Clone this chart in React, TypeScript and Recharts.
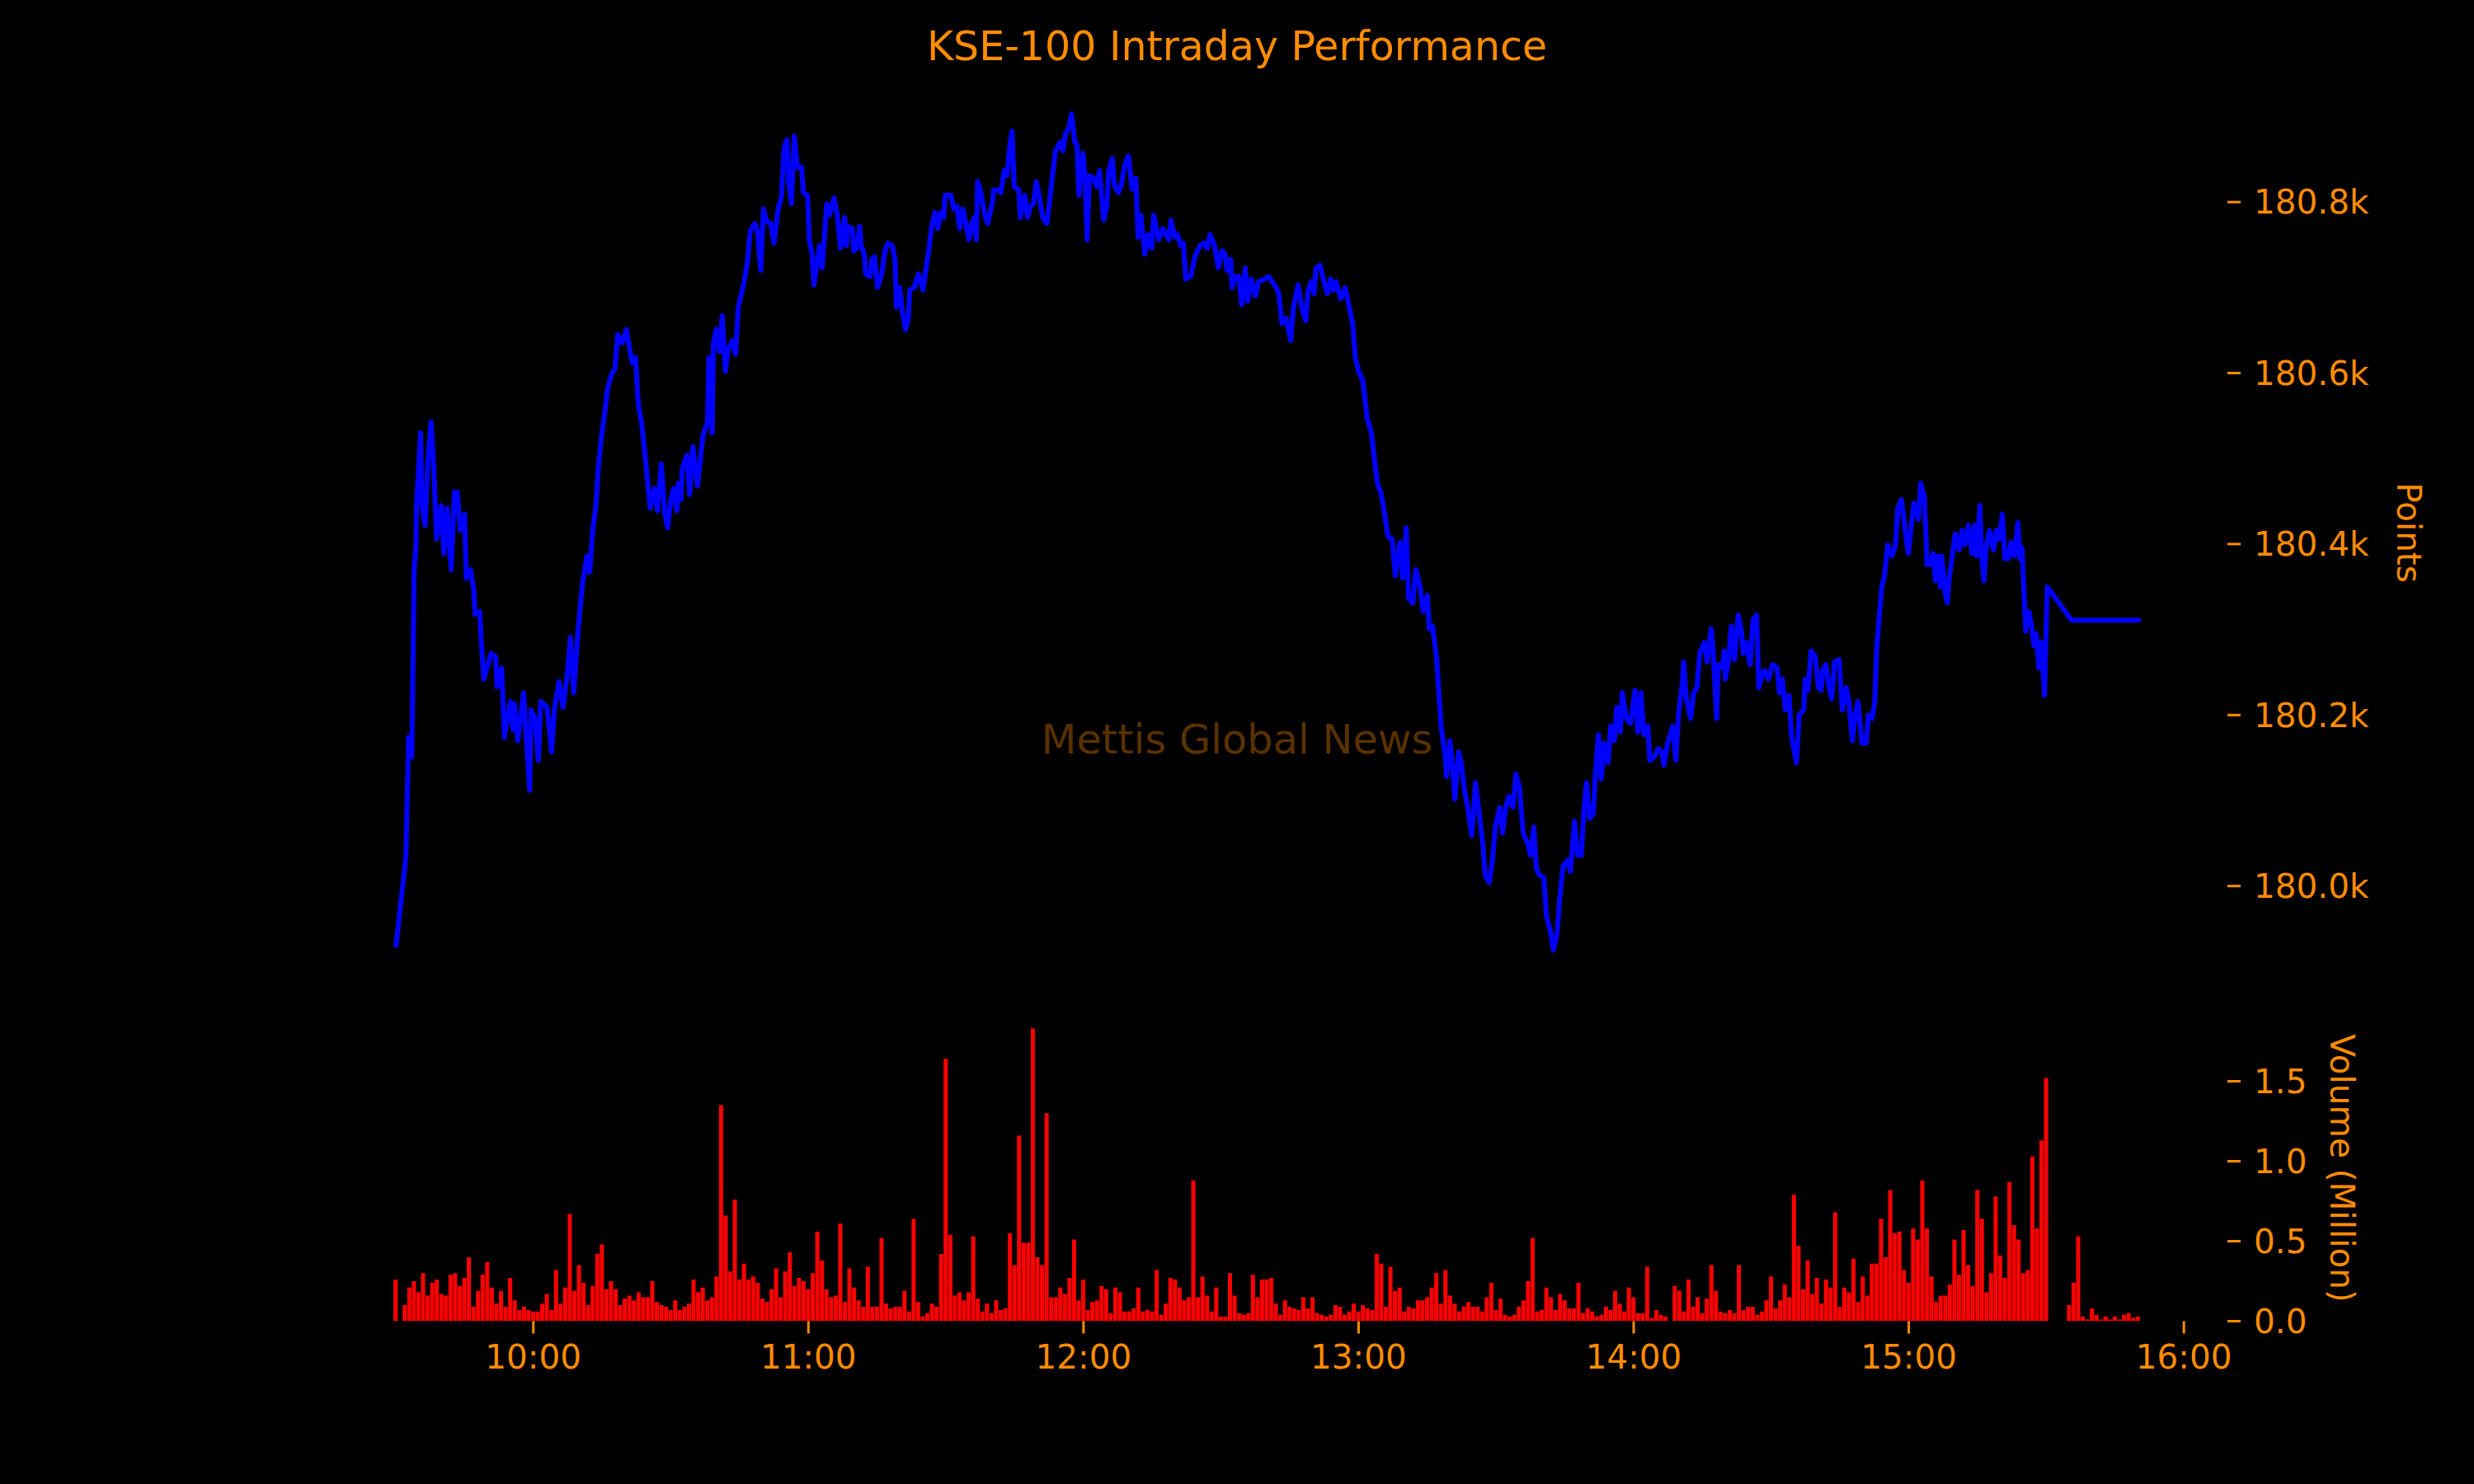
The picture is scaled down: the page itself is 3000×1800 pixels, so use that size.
import { LineChart, Line, BarChart, Bar, XAxis, YAxis } from 'recharts';

// minutes after the 09:30 open
const priceMinutes = [
  0, 2.2, 2.8, 3.5, 4.0, 4.4, 4.5, 5.4, 5.7, 6.4, 7.0, 7.7, 8.3, 8.9, 9.9, 10.5, 11.2, 12.1, 12.8, 13.4,
  14.1, 15.0, 15.4, 16.3, 17.0, 17.3, 18.3, 18.6, 19.2, 19.9, 20.8, 21.8, 22.1, 23.1, 23.7, 25.0, 25.6, 25.9, 26.6, 27.9,
  28.5, 29.2, 29.5, 30.4, 31.1, 31.6, 33.0, 34.0, 34.6, 35.6, 36.5, 37.5, 38.1, 38.8, 39.8, 40.7, 41.7, 42.3, 43.0, 43.6,
  44.2, 44.9, 45.5, 46.2, 47.1, 47.8, 48.4, 49.4, 50.3, 51.0, 51.6, 52.3, 52.9, 53.6, 54.5, 55.5, 56.4, 57.1, 57.9, 58.7,
  59.3, 60.0, 60.6, 61.3, 61.6, 62.2, 62.5, 63.5, 64.1, 64.8, 65.8, 66.4, 67.0, 68.0, 68.3, 69.0, 69.3, 69.9, 70.6, 71.2,
  71.9, 72.5, 73.5, 74.1, 74.7, 76.0, 76.7, 77.3, 78.3, 78.9, 79.6, 80.2, 80.8, 81.8, 82.5, 83.4, 84.1, 84.7, 85.3, 85.7,
  86.3, 86.9, 87.6, 88.5, 88.9, 89.8, 90.2, 90.8, 91.2, 91.8, 92.4, 93.0, 94.0, 94.6, 95.6, 96.3, 97.0, 97.9, 98.3, 98.6,
  99.6, 99.9, 100.6, 101.2, 101.5, 102.2, 102.5, 103.5, 103.8, 104.4, 105.1, 106.0, 106.7, 107.3, 108.3, 108.9, 109.2, 109.9, 110.5, 111.2,
  111.8, 112.1, 113.1, 114.0, 115.0, 115.6, 116.3, 116.9, 117.6, 118.2, 118.9, 119.5, 119.8, 121.1, 121.7, 122.4, 123.0, 123.7, 125.0, 125.6,
  126.2, 126.6, 126.9, 127.5, 128.5, 129.1, 130.1, 130.4, 131.4, 132.0, 132.7, 133.3, 133.9, 134.4, 134.9, 135.9, 136.2, 137.2, 137.8, 138.4,
  139.1, 139.7, 140.4, 141.1, 142.0, 142.6, 143.3, 143.9, 144.9, 145.5, 146.1, 146.8, 147.4, 148.1, 148.6, 149.0, 149.5, 149.9, 150.3, 150.8,
  151.3, 152.2, 152.9, 153.5, 154.4, 155.1, 155.5, 156.3, 156.7, 157.6, 158.3, 158.9, 159.8, 160.6, 161.4, 161.9, 162.5, 163.4, 164.1, 164.9,
  165.3, 166.4, 167.3, 168.6, 169.1, 169.9, 170.5, 171.2, 171.8, 172.3, 173.4, 174.3, 175.4, 176.3, 177.0, 177.6, 178.6, 179.4, 180.2, 180.9,
  181.3, 182.1, 182.4, 183.1, 183.9, 184.5, 185.3, 185.8, 186.6, 187.5, 188.2, 189.5, 190.4, 192.0, 192.6, 193.3, 194.2, 195.2, 195.8, 196.8,
  197.6, 198.5, 199.0, 199.7, 200.3, 200.7, 201.6, 202.3, 203.2, 203.9, 204.5, 205.1, 206.1, 207.1, 207.7, 208.7, 209.3, 210.0, 210.9, 211.9,
  212.8, 213.5, 214.1, 214.8, 215.4, 216.4, 217.3, 218.0, 219.0, 219.6, 220.4, 220.9, 221.8, 222.5, 223.4, 224.1, 225.0, 225.4, 226.1, 227.0,
  227.3, 228.0, 228.9, 229.2, 229.9, 230.5, 231.0, 231.8, 232.4, 233.1, 233.7, 234.7, 235.5, 236.3, 237.1, 237.6, 238.5, 239.2, 239.8, 240.8,
  241.4, 242.1, 242.8, 243.7, 244.3, 245.1, 245.9, 246.9, 247.5, 248.2, 248.8, 249.4, 250.4, 251.0, 251.8, 252.5, 253.3, 253.9, 254.6, 255.5,
  256.2, 257.1, 257.8, 258.6, 259.1, 259.7, 260.4, 261.2, 261.6, 262.3, 262.9, 263.6, 264.4, 265.0, 265.8, 266.3, 267.1, 267.5, 268.4, 269.3,
  270.3, 270.9, 271.6, 272.2, 273.1, 273.5, 274.5, 275.4, 276.1, 276.6, 277.4, 278.5, 279.2, 279.8, 280.6, 280.9, 281.5, 282.4, 283.1, 283.8,
  284.4, 285.4, 286.0, 286.9, 287.3, 288.1, 288.4, 289.4, 289.7, 290.0, 290.7, 291.3, 292.0, 292.8, 293.5, 293.9, 294.5, 295.4, 296.0, 296.8,
  297.3, 298.1, 298.6, 299.4, 300.3, 301.3, 301.8, 302.4, 303.1, 303.9, 304.4, 304.8, 305.5, 306.1, 307.1, 307.4, 308.0, 308.7, 309.6, 310.3,
  310.9, 311.2, 311.9, 312.5, 313.2, 313.8, 314.8, 315.5, 316.4, 317.0, 317.7, 318.3, 318.9, 319.8, 320.7, 321.2, 322.0, 322.6, 323.0, 323.4,
  324.1, 324.7, 325.4, 326.3, 327.1, 327.6, 328.4, 329.2, 329.9, 330.5, 331.1, 332.1, 332.6, 333.4, 334.0, 334.7, 335.3, 335.8, 336.3, 336.9,
  337.2, 337.9, 338.4, 338.8, 339.5, 340.1, 341.0, 341.6, 342.2, 343.0, 343.8, 344.4, 344.8, 345.5, 345.9, 346.4, 346.9, 347.6, 348.5, 349.1,
  349.8, 350.4, 351.0, 351.7, 352.3, 353.0, 353.8, 354.2, 354.7, 355.1, 355.5, 356.2, 356.8, 357.3, 357.8, 358.4, 358.9, 359.6, 360.2, 365.5,
  380.6,
];

const pricePoints = [
  179928, 180033, 180174, 180151, 180370, 180396, 180442, 180530, 180445, 180422, 180497, 180543, 180488, 180406, 180445, 180389, 180442, 180370, 180461, 180461,
  180416, 180435, 180360, 180370, 180347, 180318, 180321, 180291, 180242, 180255, 180272, 180268, 180233, 180255, 180174, 180216, 180183, 180213, 180170, 180226,
  180170, 180112, 180206, 180196, 180147, 180216, 180209, 180157, 180206, 180239, 180209, 180252, 180291, 180226, 180301, 180353, 180386, 180367, 180419, 180442,
  180491, 180527, 180550, 180582, 180599, 180605, 180645, 180635, 180651, 180628, 180612, 180618, 180563, 180543, 180497, 180442, 180465, 180439, 180494, 180435,
  180419, 180452, 180465, 180439, 180471, 180452, 180488, 180504, 180458, 180514, 180468, 180497, 180527, 180543, 180618, 180530, 180635, 180651, 180625, 180667,
  180602, 180628, 180638, 180622, 180677, 180707, 180730, 180766, 180775, 180766, 180720, 180792, 180778, 180775, 180752, 180792, 180805, 180864, 180873, 180824,
  180798, 180877, 180841, 180841, 180811, 180808, 180756, 180739, 180703, 180726, 180749, 180723, 180798, 180785, 180805, 180785, 180746, 180782, 180749, 180772,
  180769, 180743, 180746, 180772, 180749, 180739, 180716, 180713, 180733, 180736, 180700, 180716, 180743, 180752, 180749, 180733, 180677, 180700, 180671, 180651,
  180664, 180697, 180700, 180716, 180697, 180720, 180746, 180772, 180788, 180769, 180788, 180782, 180808, 180808, 180792, 180795, 180769, 180792, 180756, 180775,
  180782, 180756, 180824, 180814, 180785, 180775, 180798, 180814, 180814, 180811, 180837, 180831, 180864, 180883, 180818, 180814, 180782, 180808, 180782, 180795,
  180798, 180824, 180805, 180782, 180775, 180801, 180834, 180860, 180870, 180860, 180880, 180887, 180903, 180870, 180867, 180808, 180844, 180857, 180831, 180756,
  180831, 180828, 180818, 180837, 180779, 180795, 180837, 180851, 180821, 180811, 180821, 180841, 180854, 180815, 180828, 180759, 180785, 180739, 180762, 180746,
  180785, 180756, 180769, 180756, 180779, 180759, 180762, 180749, 180752, 180710, 180713, 180736, 180749, 180752, 180746, 180762, 180749, 180723, 180743, 180739,
  180720, 180733, 180700, 180713, 180713, 180680, 180723, 180684, 180710, 180690, 180707, 180710, 180713, 180700, 180693, 180658, 180664, 180638, 180677, 180703,
  180677, 180661, 180697, 180707, 180693, 180723, 180726, 180710, 180693, 180710, 180697, 180707, 180687, 180700, 180684, 180658, 180618, 180602, 180592, 180546,
  180530, 180497, 180471, 180461, 180445, 180409, 180406, 180363, 180402, 180360, 180419, 180337, 180331, 180370, 180350, 180321, 180340, 180301, 180304, 180268,
  180242, 180187, 180151, 180128, 180170, 180138, 180102, 180157, 180144, 180112, 180095, 180059, 180121, 180085, 180049, 180013, 180004, 180030, 180069, 180092,
  180062, 180092, 180105, 180092, 180131, 180115, 180062, 180049, 180036, 180069, 180020, 180013, 180010, 179964, 179948, 179925, 179945, 179987, 180023, 180030,
  180017, 180076, 180036, 180036, 180085, 180121, 180079, 180085, 180128, 180177, 180125, 180167, 180144, 180187, 180170, 180209, 180180, 180226, 180196, 180190,
  180229, 180180, 180226, 180177, 180187, 180147, 180151, 180161, 180157, 180141, 180167, 180187, 180147, 180203, 180236, 180262, 180219, 180196, 180226, 180232,
  180272, 180285, 180262, 180301, 180278, 180196, 180259, 180255, 180275, 180242, 180265, 180304, 180265, 180317, 180298, 180272, 180285, 180259, 180311, 180317,
  180232, 180249, 180252, 180242, 180259, 180255, 180226, 180242, 180206, 180223, 180177, 180164, 180144, 180200, 180206, 180242, 180229, 180275, 180268, 180232,
  180229, 180252, 180259, 180236, 180219, 180262, 180265, 180206, 180232, 180213, 180170, 180200, 180216, 180167, 180167, 180200, 180196, 180216, 180278, 180304,
  180350, 180363, 180399, 180386, 180399, 180442, 180452, 180416, 180389, 180419, 180448, 180429, 180471, 180455, 180376, 180376, 180389, 180357, 180386, 180350,
  180386, 180344, 180331, 180360, 180386, 180412, 180393, 180416, 180399, 180422, 180389, 180422, 180386, 180445, 180386, 180357, 180396, 180416, 180393, 180416,
  180406, 180435, 180383, 180383, 180402, 180386, 180425, 180383, 180396, 180347, 180298, 180321, 180304, 180281, 180295, 180255, 180285, 180223, 180350, 180311,
  180311,
];

// one value per minute from 09:30, in millions
const volumeMillions = [
  0.26, 0, 0.10, 0.21, 0.25, 0.18, 0.30, 0.16, 0.24, 0.26,
  0.17, 0.16, 0.29, 0.30, 0.22, 0.27, 0.40, 0.09, 0.19, 0.29,
  0.37, 0.21, 0.11, 0.19, 0.09, 0.27, 0.13, 0.07, 0.09, 0.07,
  0.06, 0.06, 0.11, 0.17, 0.07, 0.32, 0.11, 0.21, 0.67, 0.19,
  0.35, 0.24, 0.10, 0.22, 0.42, 0.48, 0.20, 0.25, 0.20, 0.10,
  0.14, 0.16, 0.13, 0.18, 0.15, 0.15, 0.25, 0.12, 0.10, 0.09,
  0.07, 0.13, 0.07, 0.09, 0.11, 0.26, 0.18, 0.21, 0.13, 0.15,
  0.28, 1.35, 0.66, 0.31, 0.76, 0.26, 0.36, 0.26, 0.28, 0.24,
  0.14, 0.12, 0.20, 0.33, 0.15, 0.31, 0.43, 0.22, 0.27, 0.25,
  0.20, 0.30, 0.56, 0.38, 0.20, 0.15, 0.16, 0.61, 0.12, 0.33,
  0.21, 0.13, 0.09, 0.34, 0.09, 0.09, 0.52, 0.11, 0.08, 0.09,
  0.09, 0.19, 0.06, 0.64, 0.12, 0.03, 0.05, 0.11, 0.09, 0.42,
  1.64, 0.54, 0.16, 0.18, 0.13, 0.18, 0.53, 0.14, 0.06, 0.11,
  0.05, 0.13, 0.07, 0.08, 0.55, 0.35, 1.16, 0.49, 0.49, 1.83,
  0.40, 0.35, 1.30, 0.15, 0.15, 0.21, 0.17, 0.27, 0.51, 0.13,
  0.26, 0.07, 0.12, 0.13, 0.22, 0.20, 0.05, 0.21, 0.18, 0.06,
  0.06, 0.08, 0.21, 0.06, 0.07, 0.06, 0.32, 0.04, 0.11, 0.27,
  0.26, 0.21, 0.13, 0.15, 0.88, 0.15, 0.28, 0.16, 0.06, 0.21,
  0.03, 0.03, 0.30, 0.16, 0.05, 0.04, 0.05, 0.29, 0.15, 0.26,
  0.26, 0.27, 0.11, 0.04, 0.13, 0.09, 0.08, 0.07, 0.15, 0.08,
  0.15, 0.05, 0.04, 0.03, 0.04, 0.10, 0.09, 0.04, 0.06, 0.11,
  0.06, 0.10, 0.08, 0.07, 0.42, 0.36, 0.09, 0.34, 0.19, 0.21,
  0.06, 0.09, 0.08, 0.13, 0.13, 0.15, 0.21, 0.30, 0.11, 0.32,
  0.16, 0.11, 0.06, 0.09, 0.12, 0.09, 0.09, 0.06, 0.15, 0.24,
  0.07, 0.14, 0.04, 0.03, 0.04, 0.09, 0.13, 0.25, 0.52, 0.06,
  0.07, 0.21, 0.15, 0.07, 0.17, 0.13, 0.08, 0.08, 0.24, 0.05,
  0.08, 0.06, 0.03, 0.04, 0.09, 0.07, 0.19, 0.11, 0.06, 0.21,
  0.15, 0.05, 0.05, 0.34, 0.02, 0.07, 0.04, 0.03, 0, 0.22,
  0.19, 0.06, 0.26, 0.09, 0.15, 0.05, 0.14, 0.35, 0.19, 0.06,
  0.05, 0.07, 0.05, 0.35, 0.07, 0.09, 0.09, 0.04, 0.06, 0.13,
  0.28, 0.08, 0.13, 0.23, 0.15, 0.79, 0.47, 0.20, 0.38, 0.17,
  0.27, 0.11, 0.26, 0.21, 0.68, 0.09, 0.21, 0.18, 0.39, 0.12,
  0.28, 0.16, 0.36, 0.36, 0.64, 0.40, 0.82, 0.55, 0.56, 0.32,
  0.24, 0.58, 0.51, 0.88, 0.58, 0.28, 0.12, 0.16, 0.16, 0.23,
  0.51, 0.29, 0.57, 0.35, 0.22, 0.82, 0.64, 0.18, 0.30, 0.78,
  0.41, 0.27, 0.87, 0.60, 0.51, 0.30, 0.32, 1.03, 0.58, 1.13,
  1.52, 0, 0, 0, 0, 0.10, 0.24, 0.53, 0.03, 0.01,
  0.08, 0.04, 0.01, 0.03, 0.01, 0.03, 0.01, 0.04, 0.05, 0.02,
  0.03,
];

const timeTicks = [30, 90, 150, 210, 270, 330, 390];
const timeTickLabels = ['10:00', '11:00', '12:00', '13:00', '14:00', '15:00', '16:00'];
const priceTicks = [180000, 180200, 180400, 180600, 180800];
const priceTickLabels = ['180.0k', '180.2k', '180.4k', '180.6k', '180.8k'];
const volumeTicks = [0, 0.5, 1, 1.5];
const volumeTickLabels = ['0.0', '0.5', '1.0', '1.5'];

const ORANGE = '#FF8C00';
const FONT = '"DejaVu Sans", sans-serif';
const X_DOMAIN: [number, number] = [-19.05, 399.5];

const priceData = priceMinutes.map((t, i) => ({ t, p: pricePoints[i] }));
const volumeData = volumeMillions.map((v, i) => ({ t: i, v }));

const tickStyle = { fill: ORANGE, fontSize: 40.5, fontFamily: FONT };
const tickLineStyle = { stroke: ORANGE, strokeWidth: 3 };

function labelFor(ticks: number[], labels: string[]) {
  return (v: number) => {
    const i = ticks.indexOf(v);
    return i >= 0 ? labels[i] : String(v);
  };
}

export default function App() {
  return (
    <div style={{ position: 'absolute', left: 0, top: 0, width: 3000, height: 1800, background: '#000', overflow: 'hidden' }}>
      <svg width={3000} height={1800} style={{ position: 'absolute', left: 0, top: 0 }}>
        <text x={1500} y={914} textAnchor="middle" fill={ORANGE} fillOpacity={0.35} fontSize={49.5} fontFamily={FONT}>
          Mettis Global News
        </text>
        <text x={1500} y={73} textAnchor="middle" fill={ORANGE} fontSize={49} fontFamily={FONT}>
          KSE-100 Intraday Performance
        </text>
        <text transform="translate(2921,646) rotate(90)" textAnchor="middle" dominantBaseline="central" fill={ORANGE} fontSize={40.5} fontFamily={FONT}>
          Points
        </text>
        <text transform="translate(2840,1417) rotate(90)" textAnchor="middle" dominantBaseline="central" fill={ORANGE} fontSize={40.5} fontFamily={FONT}>
          Volume (Million)
        </text>
      </svg>

      <div style={{ position: 'absolute', left: 0, top: 0 }}>
        <LineChart width={3000} height={1220} data={priceData} margin={{ top: 87.5, right: 0, bottom: 16.7, left: 374 }}>
          <XAxis type="number" dataKey="t" domain={X_DOMAIN} allowDataOverflow hide />
          <YAxis
            orientation="right"
            width={299}
            domain={[179876, 180952]}
            allowDataOverflow
            ticks={priceTicks}
            interval={0}
            tickFormatter={labelFor(priceTicks, priceTickLabels)}
            tick={tickStyle}
            tickLine={tickLineStyle}
            tickSize={16}
            tickMargin={16}
            axisLine={false}
          />
          <Line
            type="linear"
            dataKey="p"
            stroke="#0000FF"
            strokeWidth={6}
            strokeLinejoin="round"
            dot={false}
            activeDot={false}
            isAnimationActive={false}
          />
        </LineChart>
      </div>

      <div style={{ position: 'absolute', left: 0, top: 1210 }}>
        <BarChart width={3000} height={590} data={volumeData} margin={{ top: 19.6, right: 0, bottom: 97.5, left: 374 }}>
          <XAxis
            type="number"
            dataKey="t"
            domain={X_DOMAIN}
            allowDataOverflow
            ticks={timeTicks}
            interval={0}
            height={100}
            tickFormatter={labelFor(timeTicks, timeTickLabels)}
            tick={tickStyle}
            tickLine={tickLineStyle}
            tickSize={15}
            tickMargin={14}
            axisLine={false}
          />
          <YAxis
            orientation="right"
            width={299}
            domain={[0, 1.922]}
            allowDataOverflow
            ticks={volumeTicks}
            interval={0}
            tickFormatter={labelFor(volumeTicks, volumeTickLabels)}
            tick={tickStyle}
            tickLine={tickLineStyle}
            tickSize={16}
            tickMargin={16}
            axisLine={false}
          />
          <Bar dataKey="v" fill="#FF0000" barSize={6} isAnimationActive={false} />
        </BarChart>
      </div>
    </div>
  );
}
